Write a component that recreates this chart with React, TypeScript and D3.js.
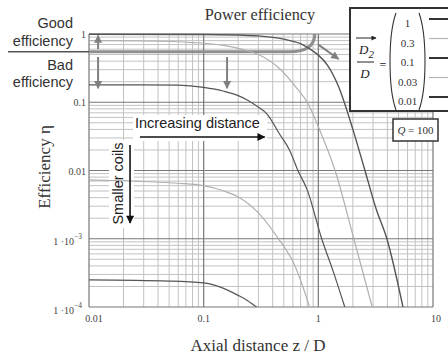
import React from "react";
import * as d3 from "d3";

const W = 448;
const H = 355;

// Axis tick labels
const xMajorTicks = [0.01, 0.1, 1, 10];
const xTickLabels = ["0.01", "0.1", "1", "10"];
const yMajorTicks = [1, 0.1, 0.01, 0.001, 0.0001];
const yTickBase = ["1", "0.1", "0.01", "1 ·10", "1 ·10"];
const yTickExp = ["", "", "", "−3", "−4"];

// Legend: D2/D ratios
const ratioLabels = ["1", "0.3", "0.1", "0.03", "0.01"];
const ratioDark = [true, false, true, false, true];

// Series (z/D , efficiency)
const zR1 = [0.01, 0.1, 0.2, 0.3, 0.5, 0.7, 0.9, 1.0, 1.2, 1.5, 2.0, 2.55, 3.2, 3.96, 5.47];
const etaR1 = [0.99, 0.985, 0.965, 0.94, 0.84, 0.72, 0.56, 0.49, 0.35, 0.17, 0.04, 0.01, 0.0027, 0.001, 0.0001];

const zR03 = [0.01, 0.03, 0.08, 0.15, 0.23, 0.3, 0.45, 0.65, 0.8, 1.03, 1.4, 2.04, 2.95];
const etaR03 = [0.8, 0.79, 0.75, 0.68, 0.58, 0.5, 0.32, 0.16, 0.1, 0.039, 0.01, 0.001, 0.0001];

const zR01 = [0.01, 0.03, 0.06, 0.1, 0.15, 0.2, 0.24, 0.29, 0.36, 0.46, 0.56, 0.664, 0.8, 1.07, 1.35, 1.7];
const etaR01 = [0.18, 0.18, 0.178, 0.165, 0.145, 0.125, 0.108, 0.088, 0.066, 0.034, 0.02, 0.01, 0.0052, 0.001, 0.00033, 0.0001];

const zR003 = [0.01, 0.03, 0.06, 0.1, 0.15, 0.2, 0.3, 0.44, 0.63, 0.84];
const etaR003 = [0.0073, 0.0069, 0.0065, 0.006, 0.005, 0.0041, 0.0024, 0.00105, 0.00039, 0.0001];

const zR001 = [0.01, 0.05, 0.1, 0.16, 0.2, 0.24, 0.29];
const etaR001 = [0.00025, 0.00024, 0.000225, 0.000178, 0.000148, 0.000125, 0.0001];

const SERIF = "'Liberation Serif', 'Times New Roman', serif";
const SANS = "'Liberation Sans', Arial, sans-serif";

export default function App() {
  const x = d3.scaleLog().domain([0.01, 10]).range([89, 433]);
  const y = d3.scaleLog().domain([1e-4, 1]).range([307, 34]);
  const xt = x.ticks();
  const yt = y.ticks();
  const isMajor = (v: number) =>
    Math.abs(Math.log10(v) - Math.round(Math.log10(v))) < 1e-6;

  const line = d3
    .line<[number, number]>()
    .x((d) => x(d[0]))
    .y((d) => y(d[1]))
    .curve(d3.curveMonotoneX);

  const series = [
    { z: zR1, e: etaR1, dark: true, w: 1.4 },
    { z: zR03, e: etaR03, dark: false, w: 1.2 },
    { z: zR01, e: etaR01, dark: true, w: 1.2 },
    { z: zR003, e: etaR003, dark: false, w: 1.2 },
    { z: zR001, e: etaR001, dark: true, w: 1.2 },
  ];

  const legendY = d3.scalePoint<string>().domain(ratioLabels).range([23, 101]);

  // annotation band: efficiency boundary
  const bandEta = 0.55;
  const yb = y(bandEta);
  const xCurve = x(0.56);
  const xCorner = x(0.93);
  const bandPath = `M${x(0.01)},${yb} L${xCurve},${yb} Q${xCorner},${yb} ${xCorner},${y(1)}`;

  return (
    <svg
      width={W}
      height={H}
      style={{ position: "absolute", left: 0, top: 0, display: "block", background: "#fff" }}
    >
      <defs>
        <marker id="ahGray" viewBox="0 0 10 10" refX="9" refY="5" markerUnits="userSpaceOnUse" markerWidth="9" markerHeight="8" orient="auto">
          <path d="M0,0 L10,5 L0,10 z" fill="#808080" />
        </marker>
        <marker id="ahBlack" viewBox="0 0 10 10" refX="9" refY="5" markerUnits="userSpaceOnUse" markerWidth="9" markerHeight="8" orient="auto">
          <path d="M0,0 L10,5 L0,10 z" fill="#111" />
        </marker>
        <marker id="ahSmall" viewBox="0 0 10 10" refX="9" refY="5" markerUnits="userSpaceOnUse" markerWidth="6" markerHeight="5" orient="auto">
          <path d="M0,0 L10,5 L0,10 z" fill="#222" />
        </marker>
        <clipPath id="plotClip">
          <rect x={x(0.01)} y={y(1) - 2} width={x(10) - x(0.01)} height={y(1e-4) - y(1) + 2} />
        </clipPath>
      </defs>

      {/* minor grid */}
      <g stroke="#c2c2c2" strokeWidth={1}>
        {xt.filter((v) => !isMajor(v)).map((v, i) => (
          <line key={"xm" + i} x1={x(v)} x2={x(v)} y1={y(1)} y2={y(1e-4)} />
        ))}
        {yt.filter((v) => !isMajor(v)).map((v, i) => (
          <line key={"ym" + i} x1={x(0.01)} x2={x(10)} y1={y(v)} y2={y(v)} />
        ))}
      </g>
      {/* major grid */}
      <g stroke="#777" strokeWidth={1.2}>
        {xMajorTicks.map((v, i) => (
          <line key={"xM" + i} x1={x(v)} x2={x(v)} y1={y(1)} y2={y(1e-4)} />
        ))}
        {yMajorTicks.map((v, i) => (
          <line key={"yM" + i} x1={x(0.01)} x2={x(10)} y1={y(v)} y2={y(v)} />
        ))}
      </g>

      {/* white backgrounds for inline labels */}
      <rect x={133} y={115} width={134} height={26} fill="#fff" />
      <rect x={109} y={140} width={25} height={88} fill="#fff" />

      {/* efficiency band annotation */}
      <path d={bandPath} fill="none" stroke="#8f8f8f" strokeWidth={3} />
      <line x1={8} x2={x(0.01)} y1={yb} y2={yb} stroke="#555" strokeWidth={1.4} />

      {/* curves */}
      <g clipPath="url(#plotClip)" fill="none">
        {series.map((s, i) => (
          <path
            key={"s" + i}
            d={line(s.z.map((z, j) => [z, s.e[j]] as [number, number])) || ""}
            stroke={s.dark ? "#555" : "#b0b0b0"}
            strokeWidth={s.w}
          />
        ))}
      </g>

      {/* gray arrows */}
      <g stroke="#808080" strokeWidth={2}>
        <line x1={x(0.012)} x2={x(0.012)} y1={y(0.6)} y2={y(0.95)} markerEnd="url(#ahGray)" />
        <line x1={x(0.012)} x2={x(0.012)} y1={y(0.46)} y2={y(0.16)} markerEnd="url(#ahGray)" />
        <line x1={x(0.16)} x2={x(0.16)} y1={y(0.46)} y2={y(0.16)} markerEnd="url(#ahGray)" />
        <line x1={x(1.0)} x2={x(1.5)} y1={y(0.7)} y2={y(0.43)} markerEnd="url(#ahGray)" />
      </g>

      {/* black arrows */}
      <line x1={x(0.0278)} x2={x(0.34)} y1={y(0.031)} y2={y(0.031)} stroke="#111" strokeWidth={1.6} markerEnd="url(#ahBlack)" />
      <line x1={x(0.0228)} x2={x(0.0228)} y1={y(0.0236)} y2={y(0.0017)} stroke="#111" strokeWidth={1.6} markerEnd="url(#ahBlack)" />

      <text x={135} y={128} fontFamily={SANS} fontSize={14.5} fill="#222">Increasing distance</text>
      <text transform="translate(123,183.5) rotate(-90)" textAnchor="middle" fontFamily={SANS} fontSize={14.5} fill="#222">Smaller coils</text>

      {/* left annotations */}
      <g fontFamily={SANS} fontSize={14.5} fill="#333" textAnchor="end">
        <text x={73} y={28}>Good</text>
        <text x={73} y={46}>efficiency</text>
        <text x={73} y={70}>Bad</text>
        <text x={73} y={87}>efficiency</text>
      </g>

      {/* title */}
      <text x={260} y={20} textAnchor="middle" fontFamily={SERIF} fontSize={16.3} fill="#333">Power efficiency</text>

      {/* y tick labels */}
      <g fontFamily={SERIF} fontSize={10} fill="#444" textAnchor="end">
        {yMajorTicks.map((v, i) => (
          <text key={"yl" + i} x={yTickExp[i] ? 82 : 86} y={y(v) + (yTickExp[i] ? 6.5 : 4)}>
            {yTickBase[i]}
            {yTickExp[i] ? (
              <tspan dy={-6} fontSize={7.5}>{yTickExp[i]}</tspan>
            ) : null}
          </text>
        ))}
      </g>
      {/* x tick labels */}
      <g fontFamily={SERIF} fontSize={10} fill="#444" textAnchor="middle">
        {xMajorTicks.map((v, i) => (
          <text key={"xl" + i} x={x(v) + (i === 0 ? 5 : i === xMajorTicks.length - 1 ? 3 : 0)} y={322}>
            {xTickLabels[i]}
          </text>
        ))}
      </g>

      {/* axis titles */}
      <text x={258} y={351} textAnchor="middle" fontFamily={SERIF} fontSize={17} fill="#333">Axial distance z / D</text>
      <text transform="translate(50,167) rotate(-90)" textAnchor="middle" fontFamily={SERIF} fontSize={17} fill="#333">Efficiency η</text>

      {/* legend box */}
      <rect x={350} y={8} width={110} height={103} fill="#fff" stroke="#333" strokeWidth={2} />
      <line x1={356} x2={376} y1={38} y2={38} stroke="#222" strokeWidth={1} markerEnd="url(#ahSmall)" />
      <text x={359} y={54} fontFamily={SERIF} fontStyle="italic" fontSize={13} fill="#222">
        D<tspan dy={4} fontSize={11}>2</tspan>
      </text>
      <line x1={357} x2={374} y1={62} y2={62} stroke="#222" strokeWidth={1} />
      <text x={365} y={78} textAnchor="middle" fontFamily={SERIF} fontStyle="italic" fontSize={13} fill="#222">D</text>
      <text x={383} y={69} textAnchor="middle" fontFamily={SERIF} fontSize={12} fill="#222">=</text>
      <path d="M396,13 C388,35 388,88 396,110" fill="none" stroke="#333" strokeWidth={1.1} />
      <path d="M419,13 C427,35 427,88 419,110" fill="none" stroke="#333" strokeWidth={1.1} />
      <g fontFamily={SERIF} fontSize={11} fill="#333" textAnchor="middle">
        {ratioLabels.map((r) => (
          <text key={"lt" + r} x={407.5} y={(legendY(r) || 0) + 4}>{r}</text>
        ))}
      </g>
      {ratioLabels.map((r, i) => (
        <line
          key={"ll" + r}
          x1={429}
          x2={448}
          y1={(legendY(r) || 0) - 4}
          y2={(legendY(r) || 0) - 4}
          stroke={ratioDark[i] ? "#333" : "#b5b5b5"}
          strokeWidth={ratioDark[i] ? 2 : 1.2}
        />
      ))}

      {/* Q box */}
      <rect x={393} y={119} width={45} height={22} fill="#fff" stroke="#333" strokeWidth={1.5} />
      <text x={415.5} y={134} textAnchor="middle" fontFamily={SERIF} fontSize={11} fill="#333">
        <tspan fontStyle="italic">Q</tspan> = 100
      </text>
    </svg>
  );
}
